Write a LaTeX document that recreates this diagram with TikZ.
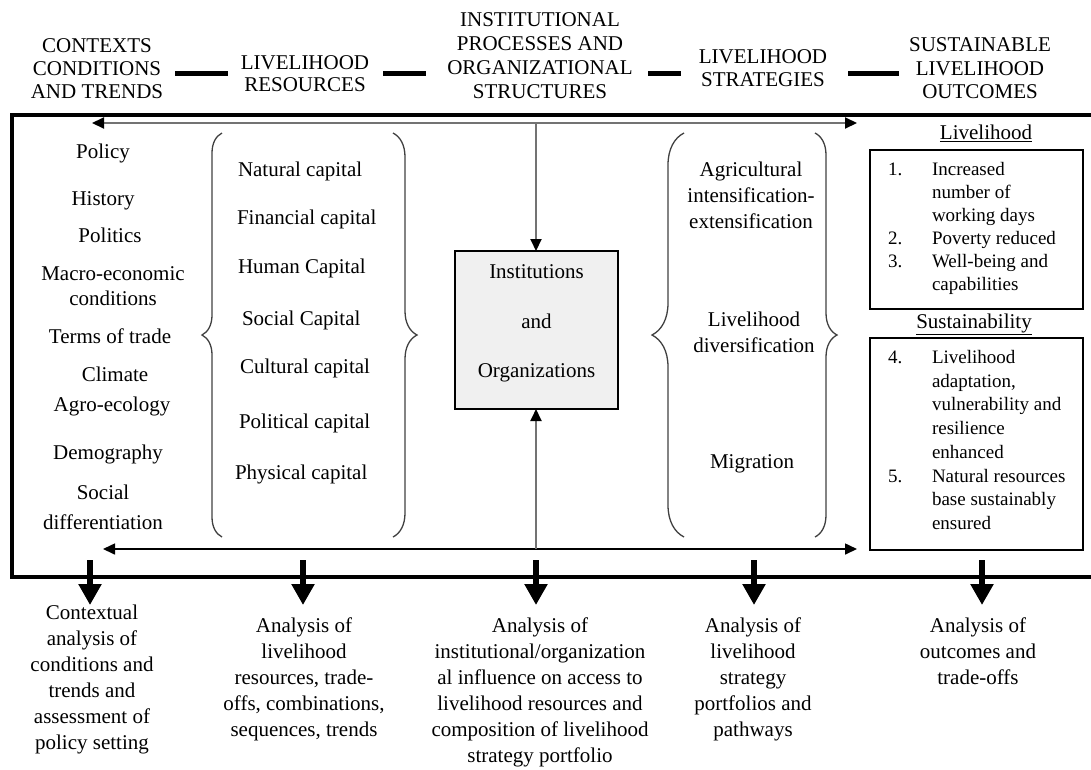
\documentclass[tikz,border=0pt]{standalone}
\usepackage{fontspec}
\setmainfont{Liberation Serif}
\usetikzlibrary{arrows.meta,decorations.pathreplacing}
\begin{document}
\begin{tikzpicture}[x=1pt,y=-1pt,
  every node/.style={inner sep=0pt, outer sep=0pt},
  hdr/.style={anchor=north, align=center},
  txt/.style={anchor=north, align=center, font=\fontsize{21}{26}\selectfont},
  res/.style={anchor=north west, font=\fontsize{21}{26}\selectfont},
  lst/.style={anchor=north west},
  frame/.style={line width=3.5pt},
  dashbar/.style={line width=5pt},
  grayflow/.style={draw=black!55, line width=2pt},
  blackflow/.style={draw=black, line width=1.6pt},
  tipa/.style={-{Triangle[length=12pt,width=11pt,color=black,fill=black]}},
  tipb/.style={{Triangle[length=12pt,width=11pt,color=black,fill=black]}-{Triangle[length=12pt,width=11pt,color=black,fill=black]}},
  downarrow/.style={line width=6pt, -{Triangle[length=21pt,width=22pt]}},
  bracestyle/.style={draw=black!75, line width=1.3pt, decorate},
  boxstyle/.style={draw, line width=1.5pt, minimum width=213pt},
]
\useasboundingbox (0,0) rectangle (1091,769);

% headers
\node[hdr, font=\fontsize{21}{23}\selectfont] (h1) at (97,39) {CONTEXTS\\CONDITIONS\\AND TRENDS};
\node[hdr, font=\fontsize{21}{22}\selectfont] (h2) at (305,56) {LIVELIHOOD\\RESOURCES};
\node[hdr, font=\fontsize{21}{23.7}\selectfont] (h3) at (540,13) {INSTITUTIONAL\\PROCESSES AND\\ORGANIZATIONAL\\STRUCTURES};
\node[hdr, font=\fontsize{21}{23}\selectfont] (h4) at (763,50) {LIVELIHOOD\\STRATEGIES};
\node[hdr, font=\fontsize{21}{23.5}\selectfont] (h5) at (980,38) {SUSTAINABLE\\LIVELIHOOD\\OUTCOMES};

\draw[dashbar] (175,73) -- (228,73);
\draw[dashbar] (383,73) -- (426,73);
\draw[dashbar] (648,73) -- (681,73);
\draw[dashbar] (848,73) -- (899,73);

% main frame
\draw[frame] (1091,115) -- (12,115) -- (12,577) -- (1091,577);

% left column
\node[txt] (c1) at (103,144) {Policy};
\node[txt] (c2) at (103,192) {History};
\node[txt] (c3) at (110,228) {Politics};
\node[txt, font=\fontsize{21}{25}\selectfont] (c4) at (113,267) {Macro-economic\\conditions};
\node[txt] (c5) at (110,329) {Terms of trade};
\node[txt] (c6) at (115,367) {Climate};
\node[txt] (c7) at (112,397) {Agro-ecology};
\node[txt] (c8) at (108,445) {Demography};
\node[txt, font=\fontsize{21}{30}\selectfont] (c9) at (103,485) {Social\\differentiation};

% resources
\draw[bracestyle, decoration={brace, amplitude=20pt}] (222,537) -- (222,133);
\draw[bracestyle, decoration={brace, amplitude=24pt}] (393,133) -- (393,537);
\node[res] (r1) at (238,162) {Natural capital};
\node[res] (r2) at (237,210) {Financial capital};
\node[res] (r3) at (238,259) {Human Capital};
\node[res] (r4) at (242,311) {Social Capital};
\node[res] (r5) at (240,359) {Cultural capital};
\node[res] (r6) at (239,414) {Political capital};
\node[res] (r7) at (235,465) {Physical capital};

% institutions
\node[draw, line width=1.5pt, fill=black!6, minimum width=163pt, minimum height=158pt] (inst) at (536.5,330) {};
\node[txt, font=\fontsize{21}{49.5}\selectfont] (insttext) at (536.5,265) {Institutions\\and\\Organizations};

% strategies
\draw[bracestyle, decoration={brace, amplitude=32pt}] (684,537) -- (684,133);
\draw[bracestyle, decoration={brace, amplitude=22pt}] (815,133) -- (815,537);
\node[txt] (s1) at (751,162) {Agricultural\\intensification-\\extensification};
\node[txt] (s2) at (754,312) {Livelihood\\diversification};
\node[txt] (s3) at (752,455) {Migration};

% outcomes
\node[txt] (o1) at (986,125) {\underline{Livelihood}};
\node[boxstyle, minimum height=159pt] (lbox) at (976.5,229.5) {};
\node[lst, font=\fontsize{19}{23}\selectfont] (ltext) at (888,159.4) {\begin{tabular}{@{}p{44pt}@{}l@{}}
1. & Increased\\
 & number of\\
 & working days\\
2. & Poverty reduced\\
3. & Well-being and\\
 & capabilities
\end{tabular}};
\node[txt] (o2) at (974,314) {\underline{Sustainability}};
\node[boxstyle, minimum height=212pt] (sbox) at (976.5,444) {};
\node[lst, font=\fontsize{19}{23.7}\selectfont] (stext) at (888,346.9) {\begin{tabular}{@{}p{44pt}@{}l@{}}
4. & Livelihood\\
 & adaptation,\\
 & vulnerability and\\
 & resilience\\
 & enhanced\\
5. & Natural resources\\
 & base sustainably\\
 & ensured
\end{tabular}};

% flow arrows
\coordinate (tl) at (92,123);
\coordinate (tr) at (857,123);
\coordinate (tm) at (536,123);
\coordinate (bl) at (103,549);
\coordinate (br) at (857,549);
\coordinate (bm) at (536,549);
\draw[grayflow, tipb] (tl) -- (tr);
\draw[grayflow, tipa] (tm) -- (tm |- inst.north);
\draw[blackflow, tipb] (bl) -- (br);
\draw[grayflow, tipa] (bm) -- (bm |- inst.south);

% bottom analyses
\node[txt] (a1) at (92,605) {Contextual\\analysis of\\conditions and\\trends and\\assessment of\\policy setting};
\node[txt] (a2) at (304,618) {Analysis of\\livelihood\\resources, trade-\\offs, combinations,\\sequences, trends};
\node[txt] (a3) at (540,618) {Analysis of\\institutional/organization\\al influence on access to\\livelihood resources and\\composition of livelihood\\strategy portfolio};
\node[txt] (a4) at (753,618) {Analysis of\\livelihood\\strategy\\portfolios and\\pathways};
\node[txt] (a5) at (978,618) {Analysis of\\outcomes and\\trade-offs};

\foreach \x/\n in {90/1,303/2,536/3,754/4,982/5}{
  \coordinate (d\n s) at (\x,560);
  \coordinate (d\n e) at (\x,605);
  \draw[downarrow] (d\n s) -- (d\n e);
}
\end{tikzpicture}
\end{document}
